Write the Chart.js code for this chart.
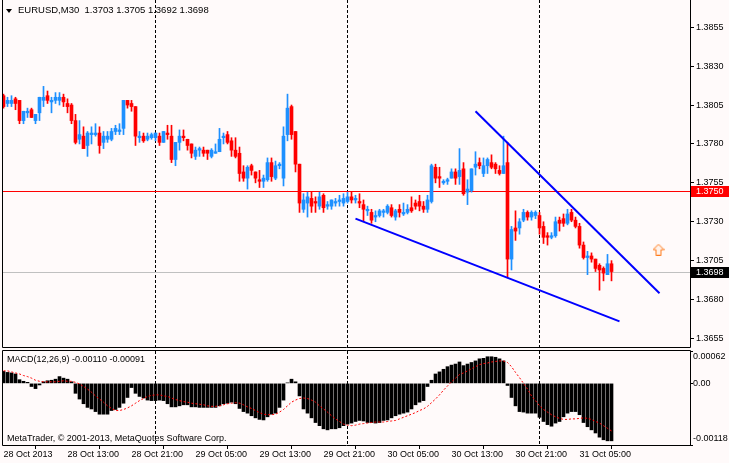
<!DOCTYPE html>
<html>
<head>
<meta charset="utf-8">
<script src="https://cdn.jsdelivr.net/npm/chart.js@4/dist/chart.umd.min.js"></script>
<style>
html,body{margin:0;padding:0;background:#fffafa;}
#wrap{position:relative;width:729px;height:463px;overflow:hidden;background:#fffafa;
  font-family:"Liberation Sans",Arial,sans-serif;font-size:9px;color:#000;}
canvas{position:absolute;left:0;}
#main{top:0;width:729px;height:349px;}
#macd{top:349px;width:729px;height:114px;}
.txt{position:absolute;white-space:pre;line-height:12px;}
#tri{position:absolute;left:6px;top:9px;width:0;height:0;
  border-left:3.5px solid transparent;border-right:3.5px solid transparent;border-top:4px solid #000;}
</style>
</head>
<body>
<div id="wrap">
  <canvas id="main" width="729" height="349"></canvas>
  <canvas id="macd" width="729" height="114"></canvas>
  <div id="tri"></div>
  <div class="txt" id="hdr" style="left:18px;top:4px;font-size:9.5px"></div>
  <div class="txt" id="mlab" style="left:7px;top:353px"></div>
  <div class="txt" style="left:7px;top:432px">MetaTrader, © 2001-2013, MetaQuotes Software Corp.</div>
</div>
<script>
const symbol = 'EURUSD,M30';

// EURUSD M30 candles, 28 Oct 05:00 .. 31 Oct 09:00
const opens = [
  1.3811,1.3806,1.3806,1.3809,1.3808,1.3795,1.3800,1.3802,1.3795,1.3800,
  1.3808,1.3811,1.3807,1.3808,1.3808,1.3810,1.3806,1.3805,1.3795,1.3783,
  1.3785,1.3779,1.3786,1.3786,1.3787,1.3781,1.3783,1.3783,1.3788,1.3788,
  1.3790,1.3808,1.3806,1.3804,1.3784,1.3785,1.3783,1.3784,1.3784,1.3785,
  1.3781,1.3787,1.3785,1.3770,1.3781,1.3785,1.3783,1.3780,1.3772,1.3776,
  1.3776,1.3776,1.3772,1.3774,1.3775,1.3784,1.3786,1.3782,1.3776,1.3774,
  1.3762,1.3758,1.3766,1.3762,1.3757,1.3756,1.3757,1.3768,1.3758,1.3766,
  1.3758,1.3786,1.3804,1.3788,1.3767,1.3738,1.3742,1.3745,1.3743,1.3740,
  1.3747,1.3740,1.3740,1.3742,1.3743,1.3742,1.3743,1.3746,1.3744,1.3743,
  1.3741,1.3737,1.3736,1.3733,1.3734,1.3736,1.3736,1.3739,1.3733,1.3738,
  1.3735,1.3736,1.3739,1.3742,1.3743,1.3740,1.3738,1.3743,1.3765,1.3759,
  1.3755,1.3756,1.3758,1.3762,1.3759,1.3764,1.3749,1.3750,1.3765,1.3768,
  1.3761,1.3766,1.3768,1.3767,1.3763,1.3761,1.3768,1.3706,1.3726,1.3726,
  1.3731,1.3736,1.3733,1.3734,1.3734,1.3727,1.3721,1.3720,1.3721,1.3731,
  1.3732,1.3729,1.3736,1.3731,1.3727,1.3715,1.3707,1.3708,1.3706,1.3702,
  1.3700,1.3696,1.3703
];
const highs = [
  1.3812,1.3810,1.3811,1.3810,1.3808,1.3801,1.3803,1.3803,1.3799,1.3810,
  1.3817,1.3814,1.3810,1.3813,1.3813,1.3812,1.3809,1.3806,1.3799,1.3795,
  1.3791,1.3788,1.3791,1.3793,1.3791,1.3788,1.3788,1.3790,1.3792,1.3793,
  1.3808,1.3808,1.3808,1.3804,1.3788,1.3787,1.3787,1.3787,1.3787,1.3787,
  1.3788,1.3792,1.3792,1.3781,1.3789,1.3789,1.3783,1.3780,1.3778,1.3778,
  1.3778,1.3776,1.3777,1.3780,1.3790,1.3787,1.3788,1.3784,1.3784,1.3778,
  1.3766,1.3766,1.3767,1.3762,1.3763,1.3760,1.3771,1.3771,1.3769,1.3768,
  1.3791,1.3812,1.3805,1.3788,1.3767,1.3748,1.3749,1.3749,1.3746,1.3749,
  1.3748,1.3743,1.3744,1.3745,1.3747,1.3748,1.3749,1.3749,1.3747,1.3748,
  1.3744,1.3740,1.3738,1.3737,1.3738,1.3738,1.3741,1.3741,1.3738,1.3741,
  1.3742,1.3741,1.3746,1.3744,1.3747,1.3743,1.3747,1.3767,1.3767,1.3765,
  1.3757,1.3758,1.3764,1.3764,1.3777,1.3768,1.3757,1.3764,1.3775,1.3771,
  1.3771,1.3771,1.3773,1.3768,1.3766,1.3785,1.3781,1.3727,1.3737,1.3732,
  1.3738,1.3737,1.3737,1.3737,1.3736,1.3730,1.3723,1.3723,1.3733,1.3733,
  1.3735,1.3738,1.3738,1.3733,1.3729,1.3717,1.3711,1.3710,1.3706,1.3703,
  1.3701,1.3709,1.3705
];
const lows = [
  1.3803,1.3804,1.3804,1.3802,1.3793,1.3793,1.3797,1.3797,1.3793,1.3795,
  1.3804,1.3806,1.3800,1.3806,1.3805,1.3804,1.3800,1.3793,1.3780,1.3780,
  1.3777,1.3772,1.3780,1.3785,1.3774,1.3777,1.3781,1.3782,1.3786,1.3786,
  1.3786,1.3803,1.3801,1.3779,1.3781,1.3781,1.3782,1.3783,1.3782,1.3779,
  1.3781,1.3783,1.3768,1.3766,1.3776,1.3782,1.3776,1.3771,1.3770,1.3772,
  1.3772,1.3770,1.3771,1.3774,1.3775,1.3780,1.3780,1.3772,1.3771,1.3756,
  1.3756,1.3751,1.3760,1.3755,1.3752,1.3752,1.3756,1.3756,1.3757,1.3764,
  1.3753,1.3782,1.3783,1.3762,1.3736,1.3736,1.3733,1.3736,1.3736,1.3738,
  1.3736,1.3738,1.3738,1.3740,1.3740,1.3740,1.3742,1.3742,1.3742,1.3739,
  1.3730,1.3734,1.3729,1.3730,1.3733,1.3733,1.3735,1.3733,1.3731,1.3733,
  1.3734,1.3735,1.3736,1.3738,1.3737,1.3736,1.3736,1.3742,1.3755,1.3752,
  1.3754,1.3754,1.3758,1.3754,1.3754,1.3747,1.3741,1.3749,1.3760,1.3764,
  1.3759,1.3761,1.3764,1.3761,1.3760,1.3761,1.3694,1.3699,1.3718,1.3722,
  1.3730,1.3731,1.3731,1.3732,1.3722,1.3716,1.3715,1.3719,1.3720,1.3724,
  1.3727,1.3728,1.3730,1.3726,1.3713,1.3706,1.3696,1.3704,1.3698,1.3686,
  1.3692,1.3696,1.3692
];
const closes = [
  1.3804,1.3808,1.3808,1.3806,1.3795,1.3801,1.3801,1.3797,1.3799,1.3810,
  1.3810,1.3808,1.3808,1.3810,1.3810,1.3807,1.3804,1.3795,1.3781,1.3786,
  1.3777,1.3787,1.3787,1.3787,1.3779,1.3785,1.3785,1.3788,1.3790,1.3789,
  1.3808,1.3805,1.3804,1.3785,1.3785,1.3782,1.3785,1.3786,1.3787,1.3781,
  1.3788,1.3786,1.3770,1.3781,1.3785,1.3784,1.3779,1.3774,1.3776,1.3777,
  1.3774,1.3774,1.3776,1.3775,1.3783,1.3785,1.3781,1.3776,1.3772,1.3761,
  1.3758,1.3765,1.3763,1.3758,1.3756,1.3758,1.3768,1.3759,1.3766,1.3767,
  1.3785,1.3803,1.3786,1.3767,1.3742,1.3744,1.3746,1.3740,1.3742,1.3746,
  1.3739,1.3741,1.3744,1.3743,1.3744,1.3745,1.3746,1.3744,1.3745,1.3742,
  1.3738,1.3738,1.3731,1.3734,1.3737,1.3737,1.3740,1.3734,1.3737,1.3736,
  1.3736,1.3738,1.3737,1.3740,1.3740,1.3738,1.3744,1.3766,1.3758,1.3758,
  1.3756,1.3757,1.3762,1.3758,1.3763,1.3748,1.3751,1.3764,1.3767,1.3766,
  1.3766,1.3770,1.3765,1.3764,1.3761,1.3766,1.3706,1.3725,1.3724,1.3730,
  1.3736,1.3733,1.3736,1.3736,1.3726,1.3720,1.3720,1.3721,1.3730,1.3729,
  1.3729,1.3735,1.3731,1.3727,1.3715,1.3707,1.3708,1.3706,1.3700,1.3699,
  1.3697,1.3703,1.3698
];

// MACD(12,26,9): main line (histogram) and signal (dotted)
const macdMain = [
  0.00023,0.00021,0.00020,0.00018,0.00007,0.00004,0.00002,-0.00006,-0.00010,-0.00003,
  0.00003,0.00005,0.00006,0.00008,0.00013,0.00010,0.00008,0.00003,-0.00019,-0.00030,
  -0.00039,-0.00046,-0.00049,-0.00054,-0.00059,-0.00059,-0.00059,-0.00052,-0.00050,-0.00046,
  -0.00038,-0.00027,-0.00008,-0.00019,-0.00025,-0.00028,-0.00032,-0.00033,-0.00033,-0.00032,
  -0.00033,-0.00039,-0.00045,-0.00045,-0.00043,-0.00041,-0.00041,-0.00045,-0.00045,-0.00046,
  -0.00046,-0.00046,-0.00046,-0.00046,-0.00043,-0.00039,-0.00038,-0.00036,-0.00039,-0.00048,
  -0.00054,-0.00057,-0.00062,-0.00066,-0.00069,-0.00070,-0.00064,-0.00059,-0.00057,-0.00046,
  -0.00032,0.00001,0.00008,0.00003,-0.00024,-0.00049,-0.00057,-0.00066,-0.00075,-0.00081,
  -0.00087,-0.00089,-0.00087,-0.00087,-0.00085,-0.00081,-0.00078,-0.00076,-0.00073,-0.00071,
  -0.00072,-0.00075,-0.00075,-0.00076,-0.00075,-0.00071,-0.00070,-0.00066,-0.00062,-0.00059,
  -0.00057,-0.00055,-0.00049,-0.00041,-0.00036,-0.00033,-0.00006,0.00006,0.00018,0.00022,
  0.00027,0.00032,0.00035,0.00037,0.00041,0.00034,0.00037,0.00040,0.00043,0.00047,
  0.00048,0.00051,0.00051,0.00050,0.00047,0.00043,-0.00004,-0.00027,-0.00043,-0.00054,
  -0.00055,-0.00057,-0.00057,-0.00057,-0.00065,-0.00073,-0.00079,-0.00082,-0.00076,-0.00073,
  -0.00064,-0.00057,-0.00054,-0.00054,-0.00060,-0.00075,-0.00083,-0.00089,-0.00095,-0.00103,
  -0.00108,-0.00110,-0.00110
];
const signal = [
  0.00024,0.00024,0.00022,0.00020,0.00018,0.00015,0.00013,0.00010,0.00006,0.00004,
  0.00003,0.00003,0.00003,0.00003,0.00004,0.00005,0.00004,0.00004,0.00002,-0.00001,
  -0.00006,-0.00011,-0.00017,-0.00024,-0.00030,-0.00036,-0.00043,-0.00048,-0.00052,-0.00052,
  -0.00050,-0.00047,-0.00043,-0.00038,-0.00033,-0.00029,-0.00025,-0.00023,-0.00022,-0.00022,
  -0.00024,-0.00025,-0.00028,-0.00031,-0.00033,-0.00035,-0.00036,-0.00038,-0.00039,-0.00040,
  -0.00041,-0.00043,-0.00044,-0.00044,-0.00043,-0.00041,-0.00039,-0.00038,-0.00037,-0.00038,
  -0.00041,-0.00045,-0.00048,-0.00052,-0.00056,-0.00059,-0.00060,-0.00060,-0.00059,-0.00055,
  -0.00050,-0.00043,-0.00036,-0.00032,-0.00029,-0.00028,-0.00029,-0.00032,-0.00036,-0.00043,
  -0.00049,-0.00055,-0.00062,-0.00068,-0.00073,-0.00078,-0.00080,-0.00081,-0.00080,-0.00078,
  -0.00077,-0.00076,-0.00075,-0.00074,-0.00074,-0.00074,-0.00073,-0.00072,-0.00071,-0.00068,
  -0.00065,-0.00062,-0.00059,-0.00056,-0.00052,-0.00049,-0.00044,-0.00037,-0.00030,-0.00022,
  -0.00013,-0.00005,0.00003,0.00010,0.00017,0.00020,0.00024,0.00028,0.00032,0.00036,
  0.00038,0.00039,0.00041,0.00042,0.00043,0.00043,0.00040,0.00032,0.00021,0.00011,
  0.00000,-0.00011,-0.00024,-0.00033,-0.00043,-0.00050,-0.00055,-0.00060,-0.00064,-0.00067,
  -0.00069,-0.00069,-0.00068,-0.00068,-0.00067,-0.00066,-0.00067,-0.00069,-0.00073,-0.00076,
  -0.00081,-0.00086,-0.00091
];

// axes
const timeTickBars = [0, 16, 32, 48, 64, 80, 96, 112, 128, 144];
const timeLabels = ['28 Oct 2013','28 Oct 13:00','28 Oct 21:00','29 Oct 05:00','29 Oct 13:00',
                    '29 Oct 21:00','30 Oct 05:00','30 Oct 13:00','30 Oct 21:00','31 Oct 05:00'];
const dayBreakBars = [38, 86, 134];
const priceTicks = [1.3855, 1.3830, 1.3805, 1.3780, 1.3755, 1.3730, 1.3705, 1.3680, 1.3655];
const macdTicks = [0.00062, 0, -0.00118];
const macdTickLabels = ['0.00062', '0.00', '-0.00118'];

// objects on chart
const hLineLevel = 1.3750;
const upperLineBars = [118, 164], upperLinePrices = [1.3801, 1.3684];
const lowerLineBars = [88, 154],  lowerLinePrices = [1.3732, 1.3666];
const arrowBar = 163.75, arrowPrice = 1.3712;

const bars = opens.map((_, i) => i);
const lastI = bars.length - 1;
const upColor = '#1E90FF', downColor = '#FF0000';
const candleColors = bars.map(i => closes[i] >= opens[i] ? upColor : downColor);
const xMin = -0.375, xMax = 171.625;

// horizontal lines and price boxes on the main panel
const mainLevels = [
  {value: hLineLevel, stroke: '#FF0000', bg: '#FF0000', fg: '#FFFFFF'},
  {value: closes[lastI], stroke: '#C0C0C0', bg: '#000000', fg: '#FFFFFF'}
];

Chart.defaults.font.family = '"Liberation Sans", Arial, sans-serif';
Chart.defaults.font.size = 9;
Chart.defaults.color = '#000';

document.getElementById('hdr').textContent =
  symbol + '  ' + [opens[lastI], highs[lastI], lows[lastI], closes[lastI]].map(v => v.toFixed(4)).join(' ');
document.getElementById('mlab').textContent =
  'MACD(12,26,9) ' + macdMain[lastI].toFixed(5) + ' ' + signal[lastI].toFixed(5);

// separators, levels, frame, price boxes
function makePanelPlugin(cfg) {
  return {
    id: 'panel',
    beforeDatasetsDraw(chart) {
      const {ctx, chartArea: a, scales} = chart;
      ctx.save();
      ctx.beginPath(); ctx.rect(a.left, a.top, a.right - a.left, a.bottom - a.top); ctx.clip();
      ctx.lineWidth = 1;
      ctx.strokeStyle = '#000000';
      ctx.setLineDash([3, 2]);
      dayBreakBars.forEach(b => {
        const x = Math.floor(scales.x.getPixelForValue(b)) + 0.5;
        ctx.beginPath(); ctx.moveTo(x, a.top); ctx.lineTo(x, a.bottom); ctx.stroke();
      });
      ctx.setLineDash([]);
      (cfg.levels || []).forEach(l => {
        const y = Math.round(scales.y.getPixelForValue(l.value)) + 0.5;
        ctx.strokeStyle = l.stroke;
        ctx.beginPath(); ctx.moveTo(a.left, y); ctx.lineTo(a.right, y); ctx.stroke();
      });
      ctx.restore();
    },
    afterDraw(chart) {
      const {ctx, chartArea: a, scales, width} = chart;
      ctx.save();
      ctx.strokeStyle = '#000000'; ctx.lineWidth = 1;
      ctx.beginPath();
      const top = cfg.topBorder ? a.top - 0.5 : 0;
      ctx.moveTo(a.left + 0.5, top); ctx.lineTo(a.left + 0.5, a.bottom + 0.5);
      ctx.lineTo(a.right + 0.5, a.bottom + 0.5); ctx.lineTo(a.right + 0.5, top);
      if (cfg.topBorder) ctx.lineTo(a.left + 0.5, top);
      ctx.stroke();

      ctx.font = '9px "Liberation Sans", Arial, sans-serif';
      ctx.textAlign = 'left'; ctx.textBaseline = 'middle';
      (cfg.levels || []).forEach(b => {
        const y = Math.round(scales.y.getPixelForValue(b.value));
        ctx.fillStyle = b.bg;
        ctx.fillRect(a.right + 1, y - 5, width - a.right - 1, 11);
        ctx.fillStyle = b.fg;
        ctx.fillText(b.value.toFixed(4), a.right + 6, y + 0.5);
      });
      if (cfg.axisValues) {
        ctx.fillStyle = '#000000';
        cfg.axisValues.forEach((v, k) => {
          let y = scales.y.getPixelForValue(v);
          y = Math.min(Math.max(y, a.top + 6), a.bottom - 6);
          ctx.fillText(cfg.axisLabels[k], a.right + 3, y);
        });
      }
      ctx.restore();
    }
  };
}

// up-arrow symbol
const arrowImg = document.createElement('canvas');
arrowImg.width = 12; arrowImg.height = 12;
(() => {
  const c = arrowImg.getContext('2d');
  c.beginPath();
  c.moveTo(6, 0.5); c.lineTo(11.5, 6); c.lineTo(8.5, 6); c.lineTo(8.5, 11.5);
  c.lineTo(3.5, 11.5); c.lineTo(3.5, 6); c.lineTo(0.5, 6); c.closePath();
  c.fillStyle = '#FFF2EA'; c.fill();
  c.strokeStyle = '#FF7A1A'; c.lineWidth = 1; c.stroke();
})();

const common = {
  responsive: false, animation: false, devicePixelRatio: 1, events: []
};

new Chart(document.getElementById('main'), {
  type: 'bar',
  data: {datasets: [
    {type: 'line', data: upperLineBars.map((b, k) => ({x: b, y: upperLinePrices[k]})),
     borderColor: '#0000FF', borderWidth: 2, pointRadius: 0, order: 0},
    {type: 'line', data: lowerLineBars.map((b, k) => ({x: b, y: lowerLinePrices[k]})),
     borderColor: '#0000FF', borderWidth: 2, pointRadius: 0, order: 0},
    {type: 'line', data: [{x: arrowBar, y: arrowPrice}], showLine: false,
     pointStyle: arrowImg, pointRadius: 6, order: 0},
    {type: 'bar', data: bars.map(i => ({x: i, y: [Math.min(opens[i], closes[i]), Math.max(opens[i], closes[i])]})),
     backgroundColor: candleColors, barThickness: 3, grouped: false, order: 1},
    {type: 'bar', data: bars.map(i => ({x: i, y: [lows[i], highs[i]]})),
     backgroundColor: candleColors, barThickness: 1, grouped: false, order: 2}
  ]},
  options: {
    ...common,
    layout: {autoPadding: false, padding: {left: 2, top: 0, right: 0, bottom: 2}},
    plugins: {legend: {display: false}, tooltip: {enabled: false}},
    scales: {
      x: {type: 'linear', display: false, min: xMin, max: xMax, offset: false},
      y: {type: 'linear', position: 'right', min: 1.36495, max: 1.38725, beginAtZero: false,
          afterBuildTicks(s) { s.ticks = priceTicks.map(v => ({value: v})); },
          afterFit(s) { s.width = 39; s.paddingTop = 0; s.paddingBottom = 0; },
          ticks: {autoSkip: false, padding: 2, color: '#000', callback: v => v.toFixed(4)},
          grid: {drawOnChartArea: false, tickLength: 4, tickColor: '#000'},
          border: {display: false}}
    }
  },
  plugins: [makePanelPlugin({levels: mainLevels})]
});

new Chart(document.getElementById('macd'), {
  type: 'bar',
  data: {datasets: [
    {type: 'line', data: bars.map(i => ({x: i, y: signal[i]})),
     borderColor: '#FF0000', borderWidth: 1, borderDash: [2, 2], pointRadius: 0, order: 0},
    {type: 'bar', data: bars.map(i => ({x: i, y: macdMain[i]})),
     backgroundColor: '#000000', barThickness: 3, order: 1}
  ]},
  options: {
    ...common,
    layout: {autoPadding: false, padding: {left: 2, top: 2, right: 0, bottom: 0}},
    plugins: {legend: {display: false}, tooltip: {enabled: false}},
    scales: {
      x: {type: 'linear', min: xMin, max: xMax, offset: false,
          afterBuildTicks(s) { s.ticks = timeTickBars.map(v => ({value: v})); },
          afterFit(s) { s.height = 18; s.paddingLeft = 0; s.paddingRight = 0; },
          ticks: {autoSkip: false, maxRotation: 0, align: 'start', padding: 0, color: '#000',
                  callback: (v, k) => timeLabels[k]},
          grid: {drawOnChartArea: false, tickLength: 4, tickColor: '#000'},
          border: {display: false}},
      y: {type: 'linear', position: 'right', min: -0.00118, max: 0.00062, beginAtZero: false,
          afterBuildTicks(s) { s.ticks = macdTicks.map(v => ({value: v})); },
          afterFit(s) { s.width = 39; s.paddingTop = 0; s.paddingBottom = 0; },
          ticks: {display: false},
          grid: {drawOnChartArea: false, tickLength: 3, tickColor: '#000'},
          border: {display: false}}
    }
  },
  plugins: [makePanelPlugin({topBorder: true, axisValues: macdTicks, axisLabels: macdTickLabels})]
});
</script>
</body>
</html>
